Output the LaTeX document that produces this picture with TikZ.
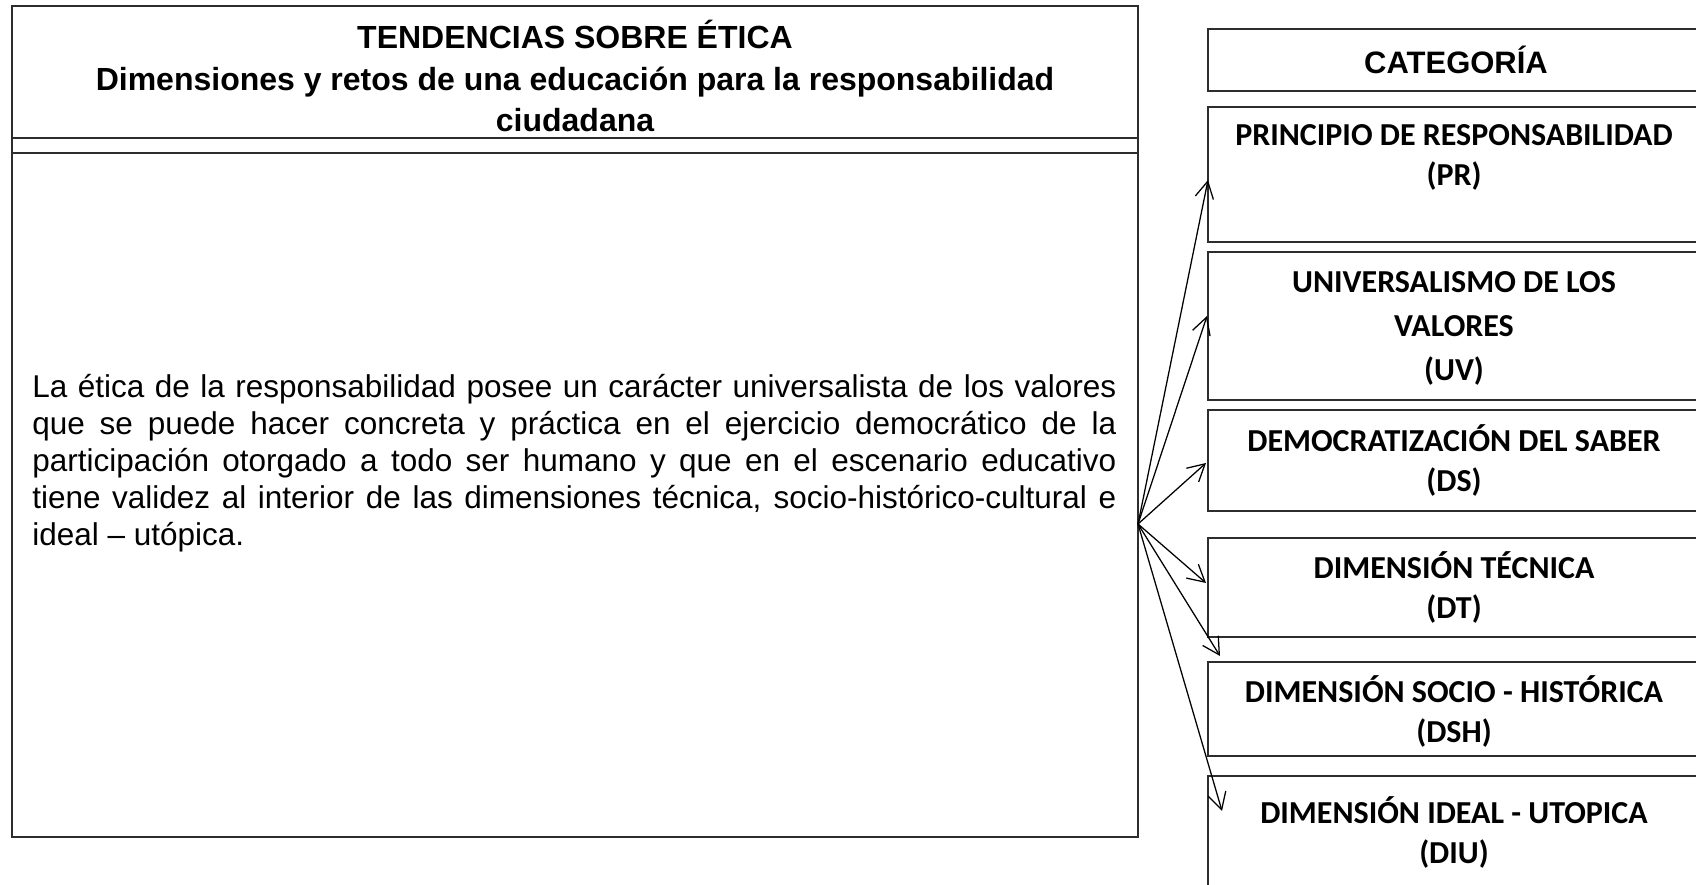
\documentclass[tikz,border=0pt]{standalone}
\usepackage{fontspec}
\setmainfont{Liberation Sans}
\newfontfamily\catfont{Carlito}
\usetikzlibrary{arrows.meta, positioning}
\definecolor{boxline}{RGB}{45,45,45}

\tikzset{
    panel/.style={draw=boxline, line width=1.2pt},
    catlabel/.style={align=center, inner sep=0pt, font=\catfont\fontsize{22.76}{28.45}\bfseries\selectfont},
    flecha/.style={-{Straight Barb[length=0.42cm, width=0.46cm]}, line width=0.9pt}
}

\begin{document}
\begin{tikzpicture}
    \useasboundingbox (0,0) rectangle (42.4,22.1);

    % Left panel
    \draw[panel] (0.3,1.175) rectangle (28.45,21.95);
    \draw[panel] (0.3,18.65) -- (28.45,18.65);
    \draw[panel] (0.3,18.275) -- (28.45,18.275);
    \node[align=center, inner sep=0pt, font=\fontsize{22.76}{29.2}\bfseries\selectfont] (titulo) at (14.375,20.2)
        {TENDENCIAS SOBRE ÉTICA\\Dimensiones y retos de una educación para la responsabilidad\\ciudadana};
    \node[anchor=base west, text width=27.1cm, align=justify, inner sep=0pt, font=\fontsize{22.4}{26.3}\selectfont] (texto) at (0.8,12.15)
        {La ética de la responsabilidad posee un carácter universalista de los valores\linebreak
         que se puede hacer concreta y práctica en el ejercicio democrático de la\linebreak
         participación otorgado a todo ser humano y que en el escenario educativo\linebreak
         tiene validez al interior de las dimensiones técnica, socio-histórico-cultural e\linebreak
         ideal – utópica.};

    % Category column
    \draw[panel] (30.2,19.825) rectangle (42.7,21.375);
    \node[inner sep=0pt, font=\fontsize{22.05}{26}\bfseries\selectfont] (categoria) at (36.4,20.6) {CATEGORÍA};

    \draw[panel] (30.2,16.05) rectangle (42.7,19.425);
    \node[catlabel] (pr) at (36.35,18.175) {PRINCIPIO DE RESPONSABILIDAD\\(PR)};

    \draw[panel] (30.2,12.1) rectangle (42.7,15.8);
    \node[catlabel, font=\catfont\fontsize{22.76}{31.3}\bfseries\selectfont] (uv) at (36.35,13.9) {UNIVERSALISMO DE LOS\\VALORES\\(UV)};

    \draw[panel] (30.2,9.325) rectangle (42.7,11.85);
    \node[catlabel] (ds) at (36.35,10.6) {DEMOCRATIZACIÓN DEL SABER\\(DS)};

    \draw[panel] (30.2,6.175) rectangle (42.7,8.65);
    \node[catlabel] (dt) at (36.35,7.425) {DIMENSIÓN TÉCNICA\\(DT)};

    \draw[panel] (30.2,3.2) rectangle (42.7,5.55);
    \node[catlabel] (dsh) at (36.35,4.325) {DIMENSIÓN SOCIO - HISTÓRICA\\(DSH)};

    \draw[panel] (30.2,-0.5) rectangle (42.7,2.7);
    \node[catlabel] (diu) at (36.35,1.3) {DIMENSIÓN IDEAL - UTOPICA\\(DIU)};

    % Arrows from the text
    \coordinate (fan) at (28.45,9.0);
    \coordinate (tpr) at (30.2,17.6);
    \coordinate (tuv) at (30.175,14.2);
    \coordinate (tds) at (30.15,10.525);
    \coordinate (tdt) at (30.15,7.525);
    \coordinate (tdsh) at (30.5,5.7);
    \coordinate (tdiu) at (30.55,1.825);
    \foreach \t in {tpr,tuv,tds,tdt,tdsh,tdiu}
        \draw[flecha] (fan) -- (\t);
\end{tikzpicture}
\end{document}
